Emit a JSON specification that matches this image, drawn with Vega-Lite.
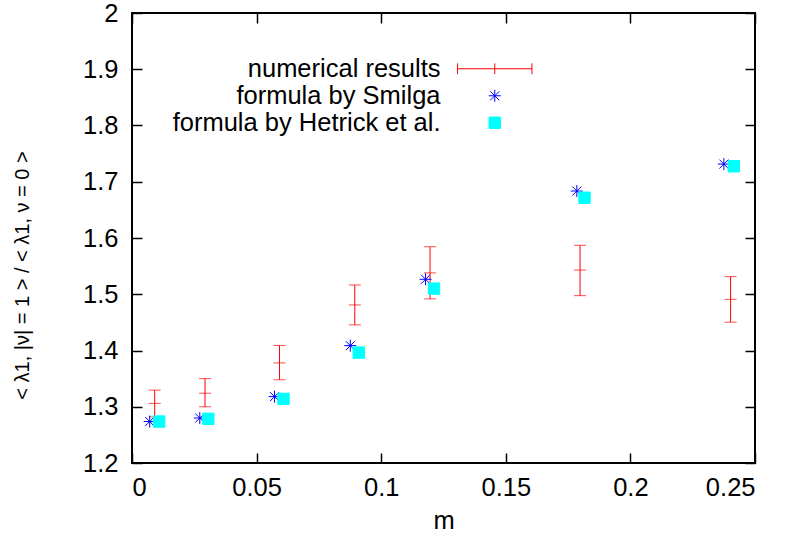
{
  "$schema": "https://vega.github.io/schema/vega-lite/v6.json",
  "width": 623,
  "height": 450,
  "autosize": {"type": "none"},
  "padding": {"left": 132, "top": 13, "right": 31, "bottom": 81},
  "background": "white",
  "config": {
    "font": "Liberation Sans",
    "view": {"stroke": "black", "strokeWidth": 2},
    "scale": {"continuousPadding": 0},
    "axis": {
      "grid": false,
      "domain": false,
      "tickColor": "black",
      "tickWidth": 1.5,
      "tickSize": -10,
      "labelFont": "Liberation Sans",
      "labelFontSize": 25.5,
      "labelColor": "black",
      "titleFont": "Liberation Sans",
      "titleFontSize": 25.5,
      "titleFontWeight": "normal",
      "titleColor": "black"
    },
    "legend": {
      "orient": "none",
      "legendX": 350,
      "legendY": 43,
      "padding": 0,
      "title": null,
      "labelFont": "Liberation Sans",
      "labelFontSize": 25.5,
      "labelColor": "black",
      "labelAlign": "right",
      "labelOffset": -67,
      "labelLimit": 0,
      "symbolSize": 144,
      "symbolStrokeWidth": 1,
      "rowPadding": -0.5
    }
  },
  "data": {
    "values": [
      {"series": "numerical results", "m": 0.0091, "y": 1.306, "lo": 1.282, "hi": 1.3295},
      {"series": "numerical results", "m": 0.0293, "y": 1.324, "lo": 1.300, "hi": 1.350},
      {"series": "numerical results", "m": 0.0592, "y": 1.378, "lo": 1.348, "hi": 1.409},
      {"series": "numerical results", "m": 0.0894, "y": 1.481, "lo": 1.4455, "hi": 1.5165},
      {"series": "numerical results", "m": 0.1196, "y": 1.538, "lo": 1.4917, "hi": 1.5845},
      {"series": "numerical results", "m": 0.1798, "y": 1.543, "lo": 1.4975, "hi": 1.587},
      {"series": "numerical results", "m": 0.2402, "y": 1.491, "lo": 1.4503, "hi": 1.5313},
      {"series": "formula by Smilga", "m": 0.0071, "y": 1.2737},
      {"series": "formula by Smilga", "m": 0.0272, "y": 1.280},
      {"series": "formula by Smilga", "m": 0.0572, "y": 1.318},
      {"series": "formula by Smilga", "m": 0.0876, "y": 1.4087},
      {"series": "formula by Smilga", "m": 0.1178, "y": 1.5266},
      {"series": "formula by Smilga", "m": 0.1785, "y": 1.6835},
      {"series": "formula by Smilga", "m": 0.2375, "y": 1.7314},
      {"series": "formula by Hetrick et al.", "m": 0.0109, "y": 1.2737},
      {"series": "formula by Hetrick et al.", "m": 0.0306, "y": 1.2785},
      {"series": "formula by Hetrick et al.", "m": 0.0608, "y": 1.314},
      {"series": "formula by Hetrick et al.", "m": 0.0910, "y": 1.3963},
      {"series": "formula by Hetrick et al.", "m": 0.1212, "y": 1.510},
      {"series": "formula by Hetrick et al.", "m": 0.1816, "y": 1.6716},
      {"series": "formula by Hetrick et al.", "m": 0.2415, "y": 1.7275}
    ]
  },
  "layer": [
    {
      "transform": [{"filter": "datum.series === 'numerical results'"}],
      "mark": {"type": "rule", "color": "#ff0000", "strokeWidth": 1},
      "encoding": {
        "x": {
          "field": "m", "type": "quantitative",
          "scale": {"domain": [0, 0.25], "nice": false, "padding": 0},
          "axis": {"orient": "bottom", "values": [0, 0.05, 0.1, 0.15, 0.2, 0.25], "format": "~g", "labelPadding": 22, "title": "m", "titlePadding": 8}
        },
        "y": {
          "field": "lo", "type": "quantitative",
          "scale": {"domain": [1.2, 2], "nice": false, "zero": false, "padding": 0},
          "axis": {"orient": "left", "values": [1.2, 1.3, 1.4, 1.5, 1.6, 1.7, 1.8, 1.9, 2], "format": "~g", "labelPadding": 24, "title": "< λ1, |ν| = 1 >  /  < λ1, ν = 0 >", "titleFontSize": 20, "titleX": -100, "titleY": 262}
        },
        "y2": {"field": "hi"}
      }
    },
    {
      "transform": [
        {"filter": "datum.series === 'numerical results'"},
        {"fold": ["lo", "y", "hi"], "as": ["k", "v"]}
      ],
      "mark": {"type": "tick", "orient": "horizontal", "color": "#ff0000", "size": 12, "thickness": 1},
      "encoding": {
        "x": {"field": "m", "type": "quantitative", "axis": {"orient": "top", "values": [0, 0.05, 0.1, 0.15, 0.2, 0.25], "labels": false, "title": null}},
        "y": {"field": "v", "type": "quantitative", "axis": {"orient": "right", "values": [1.2, 1.3, 1.4, 1.5, 1.6, 1.7, 1.8, 1.9, 2], "labels": false, "title": null}}
      }
    },
    {
      "transform": [{"filter": "datum.series !== 'numerical results'"}],
      "mark": {"type": "point", "filled": true, "size": 144, "strokeWidth": 1, "opacity": 1},
      "encoding": {
        "x": {"field": "m", "type": "quantitative", "axis": null},
        "y": {"field": "y", "type": "quantitative", "axis": null},
        "shape": {
          "field": "series", "type": "nominal",
          "scale": {
            "domain": ["numerical results", "formula by Smilga", "formula by Hetrick et al."],
            "range": [
              "M -6.2 0 L 6.2 0 M -6.2 -0.9 L -6.2 0.9 M 6.2 -0.9 L 6.2 0.9 M 0 -0.9 L 0 0.9",
              "M -1 0 L 1 0 M 0 -1 L 0 1 M -0.75 -0.75 L 0.75 0.75 M -0.75 0.75 L 0.75 -0.75",
              "M -0.95 -0.95 L 0.95 -0.95 L 0.95 0.95 L -0.95 0.95 Z"
            ]
          }
        },
        "color": {
          "field": "series", "type": "nominal",
          "scale": {
            "domain": ["numerical results", "formula by Smilga", "formula by Hetrick et al."],
            "range": ["#ff0000", "#0000ff", "#00ffff"]
          }
        },
        "stroke": {
          "field": "series", "type": "nominal",
          "scale": {
            "domain": ["numerical results", "formula by Smilga", "formula by Hetrick et al."],
            "range": ["#ff0000", "#0000ff", "#00ffff"]
          }
        }
      }
    }
  ],
  "resolve": {"axis": {"x": "independent", "y": "independent"}}
}
